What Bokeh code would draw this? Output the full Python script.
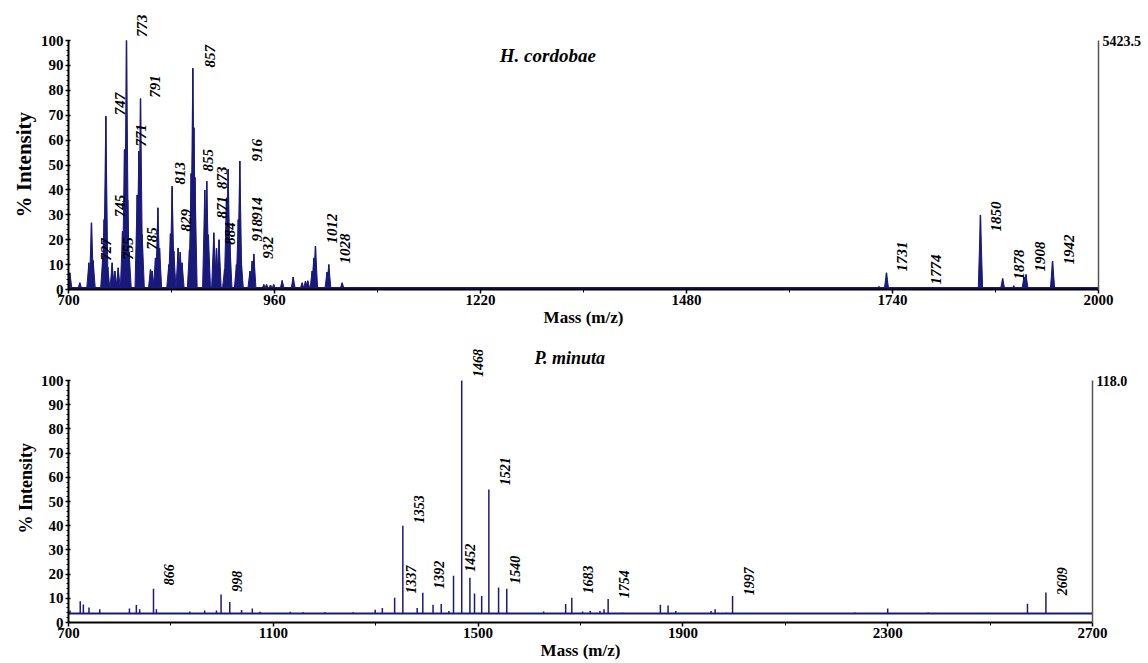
import math
from bokeh.plotting import figure
from bokeh.layouts import column
from bokeh.models import FixedTicker, LinearAxis, Label, Range1d, ColumnDataSource, Title
from bokeh.core.properties import value
from bokeh.embed import file_html
from bokeh.resources import INLINE

# ---------------- H. cordobae spectrum (top) ----------------
hc_mass = [701.7, 714.3, 725.7, 729.0, 731.1, 743.3, 745.0, 747.1, 749.5, 755.1, 758.5, 762.7,
           768.2, 770.7, 773.2, 774.6, 776.5, 786.7, 788.8, 790.9, 793.0, 803.5, 805.6, 809.8,
           812.8, 814.9, 826.6, 828.7, 830.8, 832.9, 838.4, 841.0, 843.3, 852.7, 854.8, 856.9,
           858.3, 859.6, 872.0, 874.5, 876.5, 883.4, 886.8, 890.0, 897.0, 899.4, 901.5, 903.6,
           912.0, 914.3, 916.2, 918.0, 929.0, 931.8, 933.9, 946.5, 950.0, 955.0, 959.0, 969.7,
           983.6, 994.9, 999.1, 1002.0, 1007.5, 1009.6, 1011.7, 1026.3, 1028.5, 1045.4, 1060.0,
           1703.0, 1723.0, 1732.4, 1775.0, 1823.0, 1851.0, 1879.0, 1893.0, 1906.0, 1908.5,
           1931.0, 1942.0]
hc_int = [6.7, 2.7, 10.7, 26.8, 11.6, 13.4, 28.1, 69.6, 9.0, 10.7, 7.4, 8.7,
          23.4, 56.2, 100.0, 36.0, 15.0, 38.0, 55.6, 76.7, 22.0, 8.0, 7.4, 12.7,
          32.8, 16.7, 10.0, 22.4, 41.5, 15.4, 16.7, 15.0, 10.7, 16.0, 46.6, 88.9,
          65.0, 45.0, 40.0, 43.5, 22.0, 22.8, 16.6, 20.0, 8.0, 36.8, 48.3, 19.4,
          10.0, 28.1, 51.6, 11.4, 7.4, 11.4, 14.3, 2.0, 2.0, 1.8, 2.0, 3.6,
          5.0, 2.7, 3.3, 3.5, 7.4, 12.7, 17.4, 7.0, 10.0, 2.7, 0.8,
          1.0, 1.2, 6.7, 0.6, 0.6, 29.9, 4.4, 1.5, 5.0, 6.0,
          0.6, 11.4]
hc_base_mass = [700, 2000]
hc_base_int = [0.6, 0.6]
hc_label_text = ["727", "745", "747", "755", "771", "773", "785", "791", "813", "829", "855",
                 "857", "871", "873", "884", "914", "916", "918", "932", "1012", "1028",
                 "1731", "1774", "1850", "1878", "1908", "1942"]
hc_label_mass = [727.7, 745.4, 745.0, 755.5, 770.7, 773.2, 785.8, 789.6, 821.0, 827.5, 856.5,
                 859.0, 874.0, 874.0, 884.0, 918.0, 918.0, 918.0, 931.0, 1013.0, 1029.0,
                 1732.4, 1775.0, 1851.0, 1879.0, 1906.6, 1942.0]
hc_label_level = [11.5, 29.0, 70.0, 12.0, 57.4, 101.4, 16.0, 77.0, 42.2, 23.3, 47.4,
                  89.2, 28.5, 40.4, 18.0, 28.0, 51.4, 19.3, 12.4, 18.5, 10.4,
                  7.2, 2.0, 23.3, 4.0, 7.2, 10.0]
hc_x_ticks = [700, 960, 1220, 1480, 1740, 2000]
hc_x_minor = [830, 1090, 1350, 1610, 1870]
hc_title = "H. cordobae"
hc_max_counts = "5423.5"

# ---------------- P. minuta spectrum (bottom) ----------------
pm_mass = [703, 722.9, 729, 740, 761, 819, 832.5, 839, 866, 871.7, 937, 966, 989, 998, 1015,
           1038, 1059, 1074, 1133, 1158, 1201, 1256, 1299, 1313, 1337, 1353, 1381, 1392,
           1412, 1428, 1443, 1452, 1468, 1484, 1493, 1507, 1521, 1540, 1556, 1628, 1671,
           1683, 1704, 1719, 1738, 1746, 1754, 1782, 1856, 1871, 1886, 1955, 1963, 1984,
           1997, 2236, 2300, 2379, 2573, 2609]
pm_int = [5.0, 8.8, 7.4, 6.2, 5.5, 5.8, 7.2, 5.5, 14.0, 5.5, 4.5, 5.0, 5.0, 11.6, 8.5,
          5.2, 5.8, 4.4, 4.4, 4.2, 4.2, 4.2, 5.3, 6.0, 10.2, 40.0, 6.0, 12.3,
          7.3, 7.6, 4.8, 19.3, 100.0, 18.5, 12.0, 11.0, 55.0, 14.5, 14.0, 4.5, 7.6,
          10.2, 4.5, 4.8, 4.8, 5.5, 9.7, 4.0, 7.3, 7.0, 4.8, 4.8, 5.5, 4.0,
          11.0, 4.1, 5.8, 4.1, 7.8, 12.4]
pm_base_mass = [700, 2700]
pm_base_int = [3.7, 3.7]
pm_label_text = ["866", "998", "1337", "1353", "1392", "1452", "1468", "1521", "1540",
                 "1683", "1754", "1997", "2609"]
pm_label_mass = [866, 998, 1337, 1353, 1392, 1452, 1468, 1521, 1540, 1683, 1754, 1997, 2609]
pm_label_level = [15.4, 12.7, 12.0, 41.0, 14.0, 21.0, 101.5, 56.7, 16.0, 12.0, 10.0, 11.3, 11.3]
pm_x_ticks = [700, 1100, 1500, 1900, 2300, 2700]
pm_x_minor = [900, 1300, 1700, 2100, 2500]
pm_title = "P. minuta"
pm_max_counts = "118.0"

y_ticks = list(range(0, 101, 10))
y_minor = list(range(0, 101, 2))
y_title = "% Intensity"

NAVY = "#1a1a7c"
FONT = "Liberation Serif"


def style_axes(p, xticks, xminor, max_counts, ytitle_size, ytitle_offset):
    p.xaxis.ticker = FixedTicker(ticks=xticks, minor_ticks=xminor)
    p.yaxis.ticker = FixedTicker(ticks=y_ticks, minor_ticks=y_minor)
    p.yaxis.bounds = (0, 100)
    for ax in (p.xaxis, p.yaxis):
        ax.axis_line_color = "black"
        ax.axis_line_width = 2
        ax.major_tick_line_color = "black"
        ax.major_tick_line_width = 1.5
        ax.minor_tick_line_color = "black"
        ax.major_label_text_font = FONT
        ax.major_label_text_font_style = "bold"
        ax.major_label_text_font_size = "15px"
        ax.major_label_text_color = "black"
    p.xaxis.major_tick_in = 0
    p.xaxis.major_tick_out = 4
    p.xaxis.minor_tick_in = 0
    p.xaxis.minor_tick_out = 3
    p.xaxis.major_label_standoff = 1
    p.xaxis.axis_label = "Mass (m/z)"
    p.xaxis.axis_label_text_font = FONT
    p.xaxis.axis_label_text_font_style = "bold"
    p.xaxis.axis_label_text_font_size = "17px"
    p.xaxis.axis_label_standoff = 0
    p.xaxis.axis_label_text_color = "black"
    p.yaxis.major_tick_in = 2
    p.yaxis.major_tick_out = 3
    p.yaxis.minor_tick_in = 0
    p.yaxis.minor_tick_out = 2
    p.yaxis.major_label_standoff = 2
    p.grid.visible = False
    p.outline_line_color = None
    p.add_layout(Title(text=y_title, align="left", offset=ytitle_offset, text_font=FONT,
                       text_font_style="bold", text_font_size=ytitle_size,
                       text_color="black", standoff=4), "left")
    ra = LinearAxis(bounds=(0, 100), ticker=FixedTicker(ticks=[100]),
                    major_label_overrides={100: max_counts},
                    axis_line_color="#555555", axis_line_width=1.5,
                    major_tick_line_color=None, minor_tick_line_color=None,
                    major_tick_in=0, major_tick_out=0, minor_tick_in=0, minor_tick_out=0,
                    major_label_standoff=4,
                    major_label_text_font=FONT, major_label_text_font_style="bold",
                    major_label_text_font_size="14px", major_label_text_color="black")
    p.add_layout(ra, "right")


def add_labels(p, texts, masses, levels, size):
    src = ColumnDataSource(dict(x=masses, y=levels, t=texts))
    p.text(x="x", y="y", text="t", source=src, angle=math.pi / 2, x_offset=16,
           text_align="left", text_baseline="middle",
           text_font=value(FONT), text_font_style="bold italic",
           text_font_size=size, text_color="black")


# ---------- top panel ----------
p1 = figure(frame_width=1030, frame_height=289, output_backend="svg", toolbar_location=None,
            x_range=Range1d(700, 2000), y_range=Range1d(0, 116.1),
            min_border_left=68, min_border_right=50, min_border_top=0, min_border_bottom=41)
style_axes(p1, hc_x_ticks, hc_x_minor, hc_max_counts, "21px", 72)
w = 2.8
p1.patches(xs=[[m - w, m, m + w] for m in hc_mass], ys=[[0, h, 0] for h in hc_int],
           fill_color=NAVY, line_color=NAVY, line_width=1)
p1.segment(x0=hc_mass, y0=[0] * len(hc_mass), x1=hc_mass, y1=hc_int,
           line_color=NAVY, line_width=1.5)
p1.line(hc_base_mass, hc_base_int, line_color=NAVY, line_width=2)
add_labels(p1, hc_label_text, hc_label_mass, hc_label_level, "15px")
p1.add_layout(Label(x=1305, y=94, text=hc_title, text_font=FONT, text_font_style="bold italic",
                    text_font_size="19px", text_align="center", text_baseline="middle",
                    text_color="black"))

# ---------- bottom panel ----------
p2 = figure(frame_width=1024, frame_height=292, output_backend="svg", toolbar_location=None,
            x_range=Range1d(700, 2700), y_range=Range1d(0, 120.7),
            min_border_left=68, min_border_right=56, min_border_top=0, min_border_bottom=40)
style_axes(p2, pm_x_ticks, pm_x_minor, pm_max_counts, "18px", 89)
p2.line(pm_base_mass, pm_base_int, line_color=NAVY, line_width=2)
p2.segment(x0=pm_mass, y0=pm_base_int[:1] * len(pm_mass), x1=pm_mass, y1=pm_int,
           line_color=NAVY, line_width=1.5)
add_labels(p2, pm_label_text, pm_label_mass, pm_label_level, "14px")
p2.add_layout(Label(x=1679, y=109.5, text=pm_title, text_font=FONT, text_font_style="bold italic",
                    text_font_size="18px", text_align="center", text_baseline="middle",
                    text_color="black"))

layout = column(p1, p2)
open("out.html", "w").write(file_html(layout, INLINE))
